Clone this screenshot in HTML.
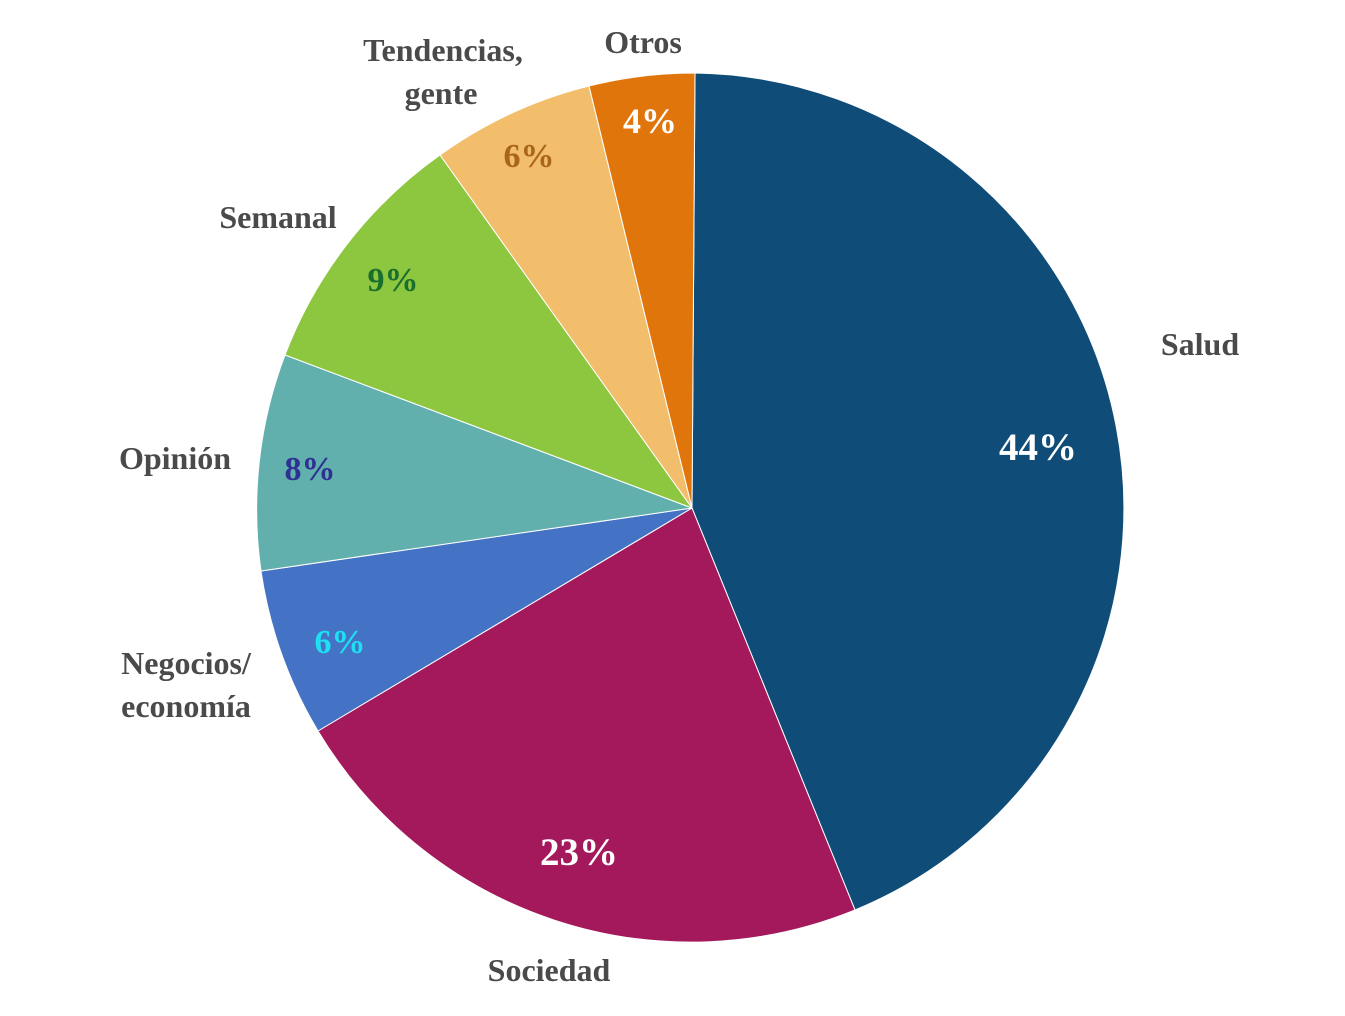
<!DOCTYPE html>
<html><head><meta charset="utf-8"><style>
html,body{margin:0;padding:0;background:#fff;}
svg text{font-family:"Liberation Serif",serif;font-weight:bold;}
</style></head><body>
<svg width="1345" height="1011" viewBox="0 0 1345 1011" xmlns="http://www.w3.org/2000/svg">
<g stroke="#fff" stroke-width="1">
<path d="M692,508 L695,73 A435,435 0 0 1 855,910 Z" fill="#0f4c78"/>
<path d="M692,508 L855,910 A435,435 0 0 1 318,731 Z" fill="#a3195b"/>
<path d="M692,508 L318,731 A435,435 0 0 1 261,571 Z" fill="#4472c4"/>
<path d="M692,508 L261,571 A435,435 0 0 1 285,355 Z" fill="#62b0ae"/>
<path d="M692,508 L285,355 A435,435 0 0 1 440,155 Z" fill="#8dc63f"/>
<path d="M692,508 L440,155 A435,435 0 0 1 589,86 Z" fill="#f3be6b"/>
<path d="M692,508 L589,86 A435,435 0 0 1 695,73 Z" fill="#e0760b"/>
</g>
<g font-size="34" text-anchor="middle">
<text x="1038" y="460" fill="#fff" font-size="39">44%</text>
<text x="579" y="865" fill="#fff" font-size="39">23%</text>
<text x="340" y="653" fill="#1ee0f0">6%</text>
<text x="310" y="480" fill="#2e3192">8%</text>
<text x="393" y="291" fill="#1a6e2e">9%</text>
<text x="529" y="167" fill="#a9661a">6%</text>
<text x="650" y="133" fill="#fff" font-size="36">4%</text>
</g>
<g font-size="32" fill="#4a4a4a" text-anchor="middle">
<text x="1200" y="355">Salud</text>
<text x="549" y="981">Sociedad</text>
<text x="186" y="674">Negocios/</text>
<text x="186" y="717">economía</text>
<text x="175" y="469">Opinión</text>
<text x="278" y="228">Semanal</text>
<text x="443" y="61">Tendencias,</text>
<text x="441" y="104">gente</text>
<text x="643" y="53">Otros</text>
</g>
</svg>
</body></html>
